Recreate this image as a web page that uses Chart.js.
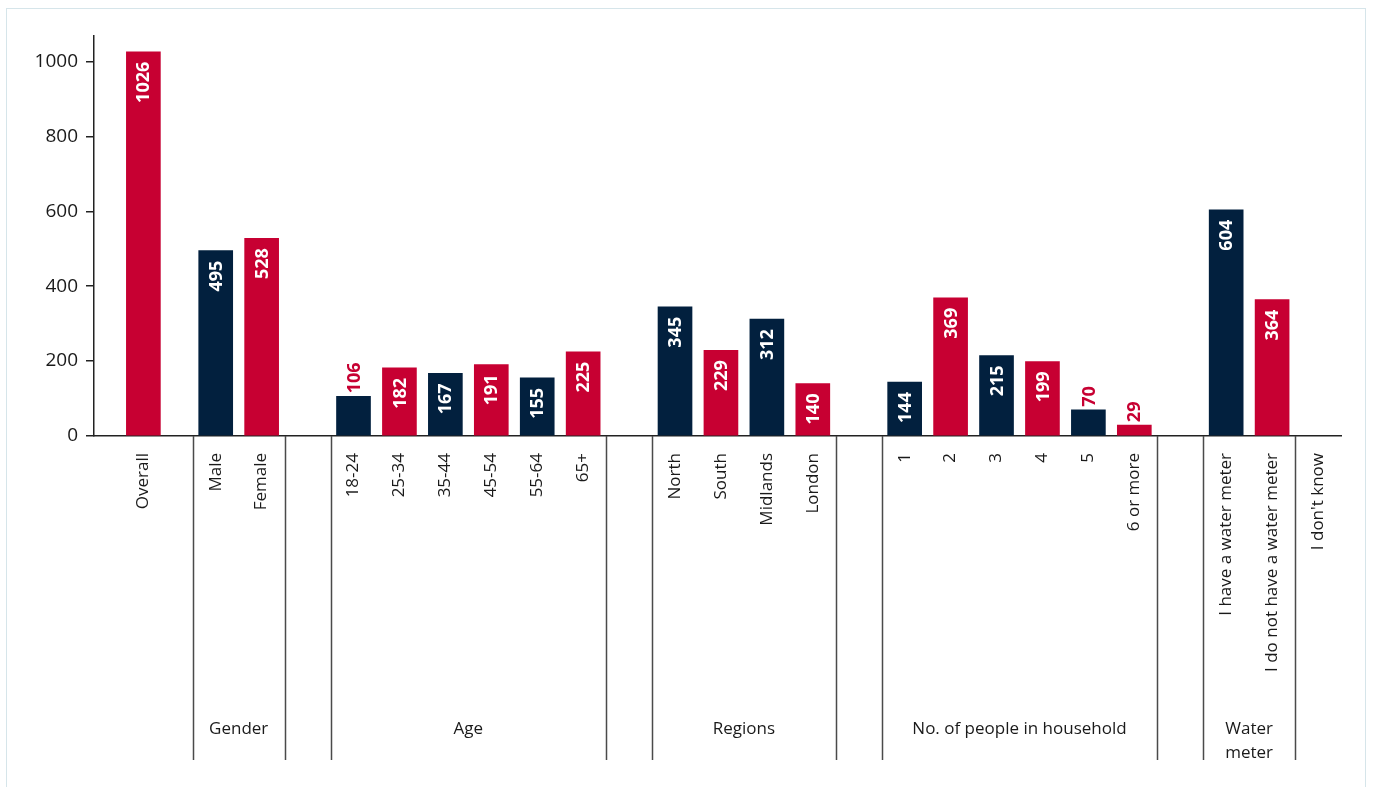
<!DOCTYPE html>
<html>
<head>
<meta charset="utf-8">
<script src="https://cdn.jsdelivr.net/npm/chart.js@4"></script>
<style>
  html, body { margin: 0; padding: 0; background: #fff; }
  #wrap { position: relative; width: 1373px; height: 787px; }
  #frame {
    position: absolute; left: 6px; top: 8px; width: 1360px; height: 800px;
    border: 1.5px solid #d6e5ea; border-bottom: none; box-sizing: border-box;
  }
  canvas { position: absolute; left: 0; top: 0; }
</style>
</head>
<body>
<div id="wrap">
  <div id="frame"></div>
  <canvas id="chart" width="1373" height="787"></canvas>
</div>
<script>
// respondents per segment
const categories = [
  'Overall',
  'Male', 'Female',
  '18-24', '25-34', '35-44', '45-54', '55-64', '65+',
  'North', 'South', 'Midlands', 'London',
  '1', '2', '3', '4', '5', '6 or more',
  'I have a water meter', 'I do not have a water meter',
  "I don't know"
];
const values = [
  1026,
  495, 528,
  106, 182, 167, 191, 155, 225,
  345, 229, 312, 140,
  144, 369, 215, 199, 70, 29,
  604, 364,
  null
];
// segment groups along the axis, with empty slots placed before each
const groupNames = ['', 'Gender', 'Age', 'Regions', 'No. of people in household', 'Water meter', ''];
const groupSizes = [1, 2, 6, 4, 6, 2, 1];
const groupGaps  = [0, 1, 1, 1, 1, 1, 0];
const yTicks = [0, 200, 400, 600, 800, 1000];

const RED = '#c70032';
const NAVY = '#02203e';
const FONT = '"Open Sans", "Noto Sans", sans-serif';
const X_MIN = -0.15, X_MAX = 27, Y_MAX = 1068;

// work out slot positions for bars, dividers and group captions
const xs = [];
const dividers = [];
const captions = [];
const groupStarts = [];
let slot = 0;
groupSizes.forEach((n, gi) => {
  slot += groupGaps[gi];
  const start = slot;
  groupStarts.push(start);
  for (let k = 0; k < n; k++) { xs.push(slot + 0.5); slot++; }
  if (groupNames[gi]) {
    dividers.push(start, slot);
    captions.push({ text: groupNames[gi], from: start, to: slot });
  }
});
// the overall bar sits centred between the axis and the first divider
xs[0] = (X_MIN + groupStarts[1]) / 2;

const points = categories.map((c, i) => ({ x: xs[i], y: values[i] }));
const barColors = categories.map((c, i) => (i % 2 === 0 ? RED : NAVY));

function wrapWords(ctx, text, maxW) {
  const words = text.split(' ');
  const lines = [];
  let line = '';
  words.forEach(w => {
    const test = line ? line + ' ' + w : w;
    if (line && ctx.measureText(test).width > maxW) { lines.push(line); line = w; }
    else line = test;
  });
  lines.push(line);
  return lines;
}

const groupAxisPlugin = {
  id: 'groupAxis',
  afterDraw(chart) {
    const ctx = chart.ctx;
    const x = chart.scales.x;
    const top = chart.chartArea.bottom;
    ctx.save();
    ctx.strokeStyle = '#4a4a4a';
    ctx.lineWidth = 1.5;
    dividers.forEach(d => {
      const px = Math.round(x.getPixelForValue(d)) + 0.5;
      ctx.beginPath();
      ctx.moveTo(px, top);
      ctx.lineTo(px, 760);
      ctx.stroke();
    });
    ctx.fillStyle = '#1a1a1a';
    ctx.font = '17px ' + FONT;
    ctx.textAlign = 'center';
    ctx.textBaseline = 'middle';
    captions.forEach(c => {
      const l = x.getPixelForValue(c.from), r = x.getPixelForValue(c.to);
      const lines = wrapWords(ctx, c.text, r - l - 6);
      lines.forEach((t, i) => ctx.fillText(t, (l + r) / 2, 729 + i * 24));
    });
    ctx.restore();
  }
};

const valueLabelPlugin = {
  id: 'valueLabels',
  afterDatasetsDraw(chart) {
    const ctx = chart.ctx;
    const meta = chart.getDatasetMeta(0);
    ctx.save();
    ctx.font = 'bold 18px ' + FONT;
    ctx.textBaseline = 'middle';
    meta.data.forEach((bar, i) => {
      const v = values[i];
      if (v === null || v === undefined) return;
      const txt = String(v);
      const w = ctx.measureText(txt).width;
      const h = bar.base - bar.y;
      ctx.save();
      ctx.translate(bar.x, bar.y);
      ctx.rotate(-Math.PI / 2);
      if (h >= w + 12) {
        ctx.fillStyle = '#ffffff';
        ctx.textAlign = 'right';
        ctx.fillText(txt, -10, 1);
      } else {
        ctx.fillStyle = RED;
        ctx.textAlign = 'left';
        ctx.fillText(txt, 3, 1);
      }
      ctx.restore();
    });
    ctx.restore();
  }
};

new Chart(document.getElementById('chart'), {
  type: 'bar',
  data: {
    datasets: [{
      data: points,
      backgroundColor: barColors,
      barThickness: 34
    }]
  },
  options: {
    responsive: false,
    animation: false,
    layout: { padding: { top: 36, right: 32, left: 0, bottom: 0 } },
    plugins: { legend: { display: false }, tooltip: { enabled: false } },
    scales: {
      x: {
        type: 'linear',
        min: X_MIN,
        max: X_MAX,
        offset: false,
        afterFit(s) { s.height = 351; },
        afterBuildTicks(s) { s.ticks = xs.map(v => ({ value: v })); },
        grid: { display: false },
        border: { display: true, color: '#222', width: 1.5 },
        ticks: {
          autoSkip: false,
          minRotation: 90,
          maxRotation: 90,
          padding: 9,
          color: '#1a1a1a',
          font: { family: FONT, size: 17 },
          callback: (v, i) => categories[i]
        }
      },
      y: {
        min: 0,
        max: Y_MAX,
        afterFit(s) { s.width = 94; },
        afterBuildTicks(s) { s.ticks = yTicks.map(v => ({ value: v })); },
        grid: { display: true, drawOnChartArea: false, drawTicks: true, tickLength: 8, color: '#222', lineWidth: 1.5 },
        border: { display: true, color: '#222', width: 1.5 },
        ticks: {
          padding: 8,
          color: '#1a1a1a',
          font: { family: FONT, size: 19 },
          callback: v => String(v)
        }
      }
    }
  },
  plugins: [groupAxisPlugin, valueLabelPlugin]
});
</script>
</body>
</html>
